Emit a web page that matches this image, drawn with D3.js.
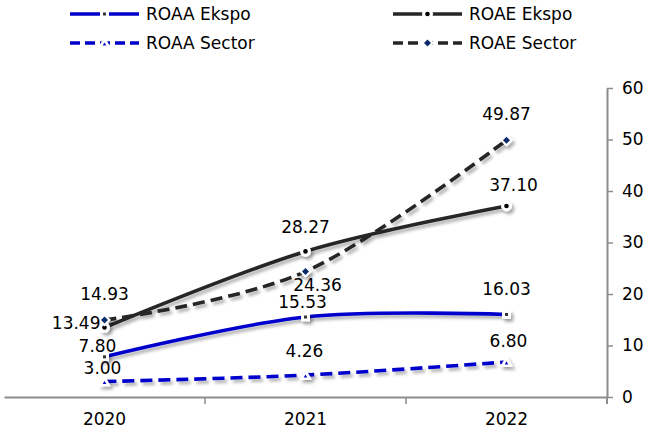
<!DOCTYPE html>
<html>
<head>
<meta charset="utf-8">
<script src="https://cdn.jsdelivr.net/npm/d3@7/dist/d3.min.js"></script>
<style>
  html, body { margin: 0; padding: 0; background: #ffffff; }
  svg { display: block; font-family: "DejaVu Sans", Verdana, sans-serif; }
</style>
</head>
<body>
<svg id="chart" width="648" height="434"></svg>
<script>
// ---------------- DATA ----------------
const categories = ["2020", "2021", "2022"];
const seriesNames = ["ROAA Ekspo", "ROAE Ekspo", "ROAA Sector", "ROAE Sector"];
const roaaEkspo  = [7.80, 15.53, 16.03];
const roaeEkspo  = [13.49, 28.27, 37.10];
const roaaSector = [3.00, 4.26, 6.80];
const roaeSector = [14.93, 24.36, 49.87];
const yTicks = [0, 10, 20, 30, 40, 50, 60];

// ---------------- LAYOUT / STYLE ----------------
const W = 648, H = 434;
const BLUE = "#0000cc", DARK = "#262626", NAVY = "#0b2a6b", AXIS = "#8c8c8c";
const FONT = 17;

const series = [
  { name: seriesNames[0], values: roaaEkspo,  color: BLUE, dash: null,   marker: "square" },
  { name: seriesNames[1], values: roaeEkspo,  color: DARK, dash: null,   marker: "circle" },
  { name: seriesNames[2], values: roaaSector, color: BLUE, dash: "12,6", marker: "triangle" },
  { name: seriesNames[3], values: roaeSector, color: DARK, dash: "12,6", marker: "diamond" }
];
// label placement per series/point: [dx, dy(baseline relative to point), anchor]
const labelPlace = [
  [[-7, -5, "middle"], [-3, -9, "middle"],  [0, -19, "middle"]],
  [[-4, 1, "end"],     [0, -18, "middle"],  [7, -15, "middle"]],
  [[-2, -8, "middle"], [-1, -18, "middle"], [2, -15, "middle"]],
  [[0, -20, "middle"], [12, 19, "middle"],  [0, -20, "middle"]]
];

const svg = d3.select("#chart");
svg.append("rect").attr("width", W).attr("height", H).attr("fill", "#fff");

const defs = svg.append("defs");
const f = defs.append("filter").attr("id", "shadow")
  .attr("x", "-20%").attr("y", "-20%").attr("width", "140%").attr("height", "140%");
f.append("feDropShadow").attr("dx", 2.5).attr("dy", 3).attr("stdDeviation", 1.8)
  .attr("flood-color", "#000").attr("flood-opacity", 0.3);

const x = d3.scaleBand().domain(categories).range([4, 607]).paddingInner(0).paddingOuter(0);
const cx = c => x(c) + x.bandwidth() / 2;
const y = d3.scaleLinear().domain([0, 60]).range([397, 88]);

// ---------------- AXES ----------------
const yAxis = svg.append("g").attr("transform", "translate(607,0)")
  .call(d3.axisRight(y).tickValues(yTicks).tickSize(6).tickSizeOuter(0).tickPadding(9));
yAxis.select(".domain").attr("stroke", AXIS).attr("stroke-width", 2);
yAxis.selectAll(".tick line").attr("stroke", AXIS).attr("stroke-width", 1.5);
yAxis.selectAll(".tick text").attr("fill", "#000").style("font-size", FONT + "px")
  .style("font-family", "DejaVu Sans, Verdana, sans-serif");

const xAxis = svg.append("g").attr("transform", "translate(0,397)")
  .call(d3.axisBottom(x).tickSize(0).tickSizeOuter(0).tickPadding(16));
xAxis.select(".domain").attr("stroke", AXIS).attr("stroke-width", 2);
xAxis.selectAll(".tick text").attr("fill", "#000").style("font-size", FONT + "px")
  .style("font-family", "DejaVu Sans, Verdana, sans-serif");
xAxis.selectAll(".bound").data(categories.slice(1)).enter().append("line")
  .attr("x1", d => x(d)).attr("x2", d => x(d)).attr("y1", 0).attr("y2", 7)
  .attr("stroke", AXIS).attr("stroke-width", 1.5);
xAxis.append("line").attr("x1", 607).attr("x2", 607).attr("y1", 0).attr("y2", 7)
  .attr("stroke", AXIS).attr("stroke-width", 2);

// ---------------- MARKERS ----------------
function drawMarker(g, type, px, py, color) {
  if (type === "square") {
    g.append("rect").attr("x", px - 4.5).attr("y", py - 4.5).attr("width", 9).attr("height", 9).attr("fill", "#fff");
    g.append("rect").attr("x", px - 1.5).attr("y", py - 1.5).attr("width", 3).attr("height", 3).attr("fill", "#333");
  } else if (type === "circle") {
    g.append("circle").attr("cx", px).attr("cy", py).attr("r", 5.5).attr("fill", "#fff");
    g.append("circle").attr("cx", px).attr("cy", py).attr("r", 2.3).attr("fill", "#000");
  } else if (type === "triangle") {
    g.append("path").attr("d", `M${px},${py - 6.5}L${px + 6.5},${py + 5}L${px - 6.5},${py + 5}Z`).attr("fill", "#fff");
    g.append("path").attr("d", `M${px},${py - 0.5}L${px + 1.8},${py + 2.5}L${px - 1.8},${py + 2.5}Z`).attr("fill", color);
  } else if (type === "diamond") {
    g.append("path").attr("d", `M${px},${py - 6.5}L${px + 6.5},${py}L${px},${py + 6.5}L${px - 6.5},${py}Z`).attr("fill", "#fff");
    g.append("path").attr("d", `M${px},${py - 3.5}L${px + 3.5},${py}L${px},${py + 3.5}L${px - 3.5},${py}Z`).attr("fill", NAVY);
  }
}

// ---------------- LINES ----------------
const line = d3.line()
  .x((d, i) => cx(categories[i]))
  .y(d => y(d))
  .curve(d3.curveCardinal.tension(0));

const plot = svg.append("g").attr("filter", "url(#shadow)");
series.forEach(s => {
  plot.append("path").datum(s.values)
    .attr("d", line)
    .attr("fill", "none")
    .attr("stroke", s.color)
    .attr("stroke-width", 3.6)
    .attr("stroke-dasharray", s.dash)
    .attr("stroke-linecap", s.dash ? "butt" : "round");
});
const markers = svg.append("g").attr("filter", "url(#shadow)");
series.forEach(s => {
  s.values.forEach((v, i) => drawMarker(markers, s.marker, cx(categories[i]), y(v), s.color));
});

// ---------------- DATA LABELS ----------------
const labels = svg.append("g");
series.forEach((s, si) => {
  s.values.forEach((v, i) => {
    const p = labelPlace[si][i];
    labels.append("text")
      .attr("x", cx(categories[i]) + p[0])
      .attr("y", y(v) + p[1])
      .attr("text-anchor", p[2])
      .attr("fill", "#000")
      .style("font-size", FONT + "px")
      .text(v.toFixed(2));
  });
});

// ---------------- LEGEND ----------------
const legendPos = [[70, 14], [393, 14], [70, 43], [393, 43]];
const leg = svg.append("g");
series.forEach((s, si) => {
  const [lx, ly] = legendPos[si];
  const g = leg.append("g");
  g.append("line").attr("x1", lx).attr("x2", lx + 69).attr("y1", ly).attr("y2", ly)
    .attr("stroke", s.color).attr("stroke-width", 3.6)
    .attr("stroke-dasharray", s.dash ? "10,5" : null);
  drawMarker(g, s.marker, lx + 34.5, ly, s.color);
  leg.append("text").attr("x", lx + 76).attr("y", ly).attr("dy", "0.35em")
    .attr("fill", "#000").style("font-size", FONT + "px").text(s.name);
});
</script>
</body>
</html>
